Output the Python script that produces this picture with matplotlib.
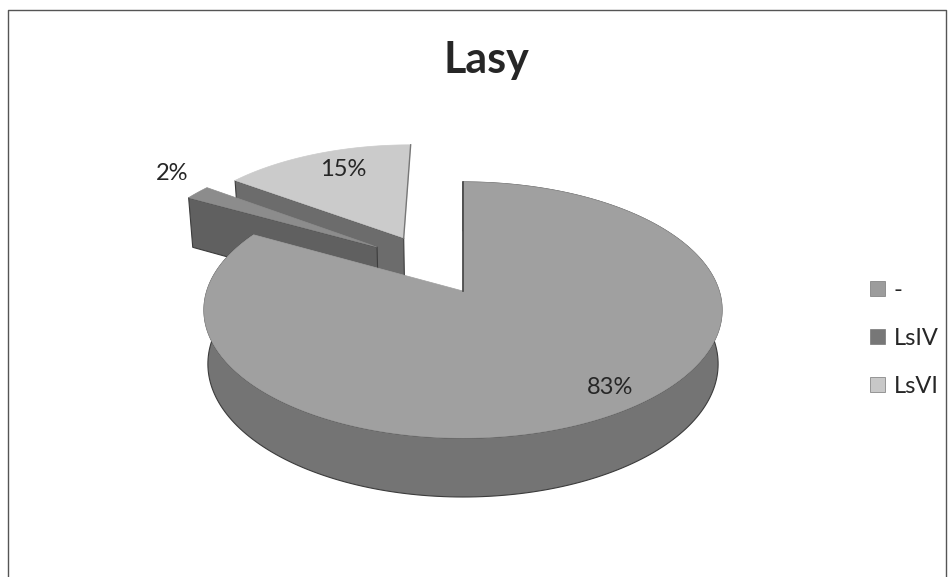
import numpy as np
import matplotlib
matplotlib.use("Agg")
import matplotlib.pyplot as plt
from matplotlib.patches import Polygon, Patch

categories = ["-", "LsIV", "LsVI"]
values = [83, 2, 15]
title = "Lasy"

top_colors = ["#a0a0a0", "#8c8c8c", "#cbcbcb"]
side_colors = ["#747474", "#606060", "#6c6c6c"]
legend_colors = ["#9c9c9c", "#777777", "#c8c8c8"]
explode = [(0.0, 0.0), (-0.354, 0.371), (-0.247, 0.452)]
radii = [1.0, 0.97, 0.96]
label_pos = [(610, 387), (172, 174), (343, 170)]

CX, CY, RX, RY, A = 463, 310, 259, 128, 0.148
plt.rcParams["font.family"] = ["Lato", "DejaVu Sans"]

fig = plt.figure(figsize=(9.5, 5.77), dpi=100)
ax = fig.add_axes([0, 0, 1, 1])
ax.set_xlim(0, 950)
ax.set_ylim(577, 0)
ax.axis("off")


def project(u, v):
    d = 1 + A * v
    return CX + RX * u * np.sqrt(1 - A * A) / d, CY - RY * (v + A) / d


def drop(x, y):
    Y = (CY - y) / RY
    return CX + (x - CX) * 0.985, y + 54 - 5 * Y


def arc(t1, t2, off, r):
    t = np.radians(np.linspace(t1, t2, 240))
    return project(off[0] + r * np.sin(t), off[1] + r * np.cos(t))


def wall(xa, ya, color, z):
    xb, yb = drop(np.asarray(xa, float), np.asarray(ya, float))
    pts = np.r_[np.c_[xa, ya], np.c_[xb, yb][::-1]]
    ax.add_patch(Polygon(pts, fc=color, ec="#3c3c3c", lw=0.8, zorder=z))


angles = np.r_[0, np.cumsum(values)] * 360 / sum(values)
order = [2, 1, 0]
for z, i in enumerate(order):
    t1, t2, off = angles[i], angles[i + 1], explode[i]
    ax_, ay_ = project(off[0], off[1])
    rx_, ry_ = arc(t1, t2, off, radii[i])
    base = z * 10 + 2
    if i == 0:
        wall(rx_, ry_, side_colors[i], base)
    else:
        wall([rx_[0], ax_], [ry_[0], ay_], side_colors[i], base)
    pts = np.r_[[[ax_, ay_]], np.c_[rx_, ry_]]
    ax.add_patch(Polygon(pts, fc=top_colors[i], ec=top_colors[i], lw=0.5, zorder=base + 1))
    if i == 0:
        ax.plot([ax_, rx_[0]], [ay_, ry_[0]], color="#444444", lw=1.2, zorder=base + 2)
    if i == 2:
        ax.plot([ax_, rx_[-1]], [ay_, ry_[-1]], color="#777777", lw=1.0, zorder=base + 2)
    ax.text(*label_pos[i], f"{values[i]}%", ha="center", va="center",
            fontsize=17, color="#262626", zorder=50)

ax.text(486, 60, title, ha="center", va="center", fontsize=31, fontweight="bold",
        color="#262626")

ax.plot([8, 8, 946, 946], [577, 10, 10, 577], color="#555555", lw=1.0, zorder=0)

handles = [Patch(fc=c, ec="#777777", lw=0.5) for c in legend_colors]
ax.legend(handles, categories, loc="upper left", bbox_to_anchor=(863 / 950, 1 - 273 / 577),
          frameon=False, fontsize=17, handlelength=0.62, handleheight=0.62, handletextpad=0.38,
          labelspacing=1.14, labelcolor="#262626", borderpad=0.3, borderaxespad=0)

fig.savefig("out.png", dpi=100, facecolor="white")
